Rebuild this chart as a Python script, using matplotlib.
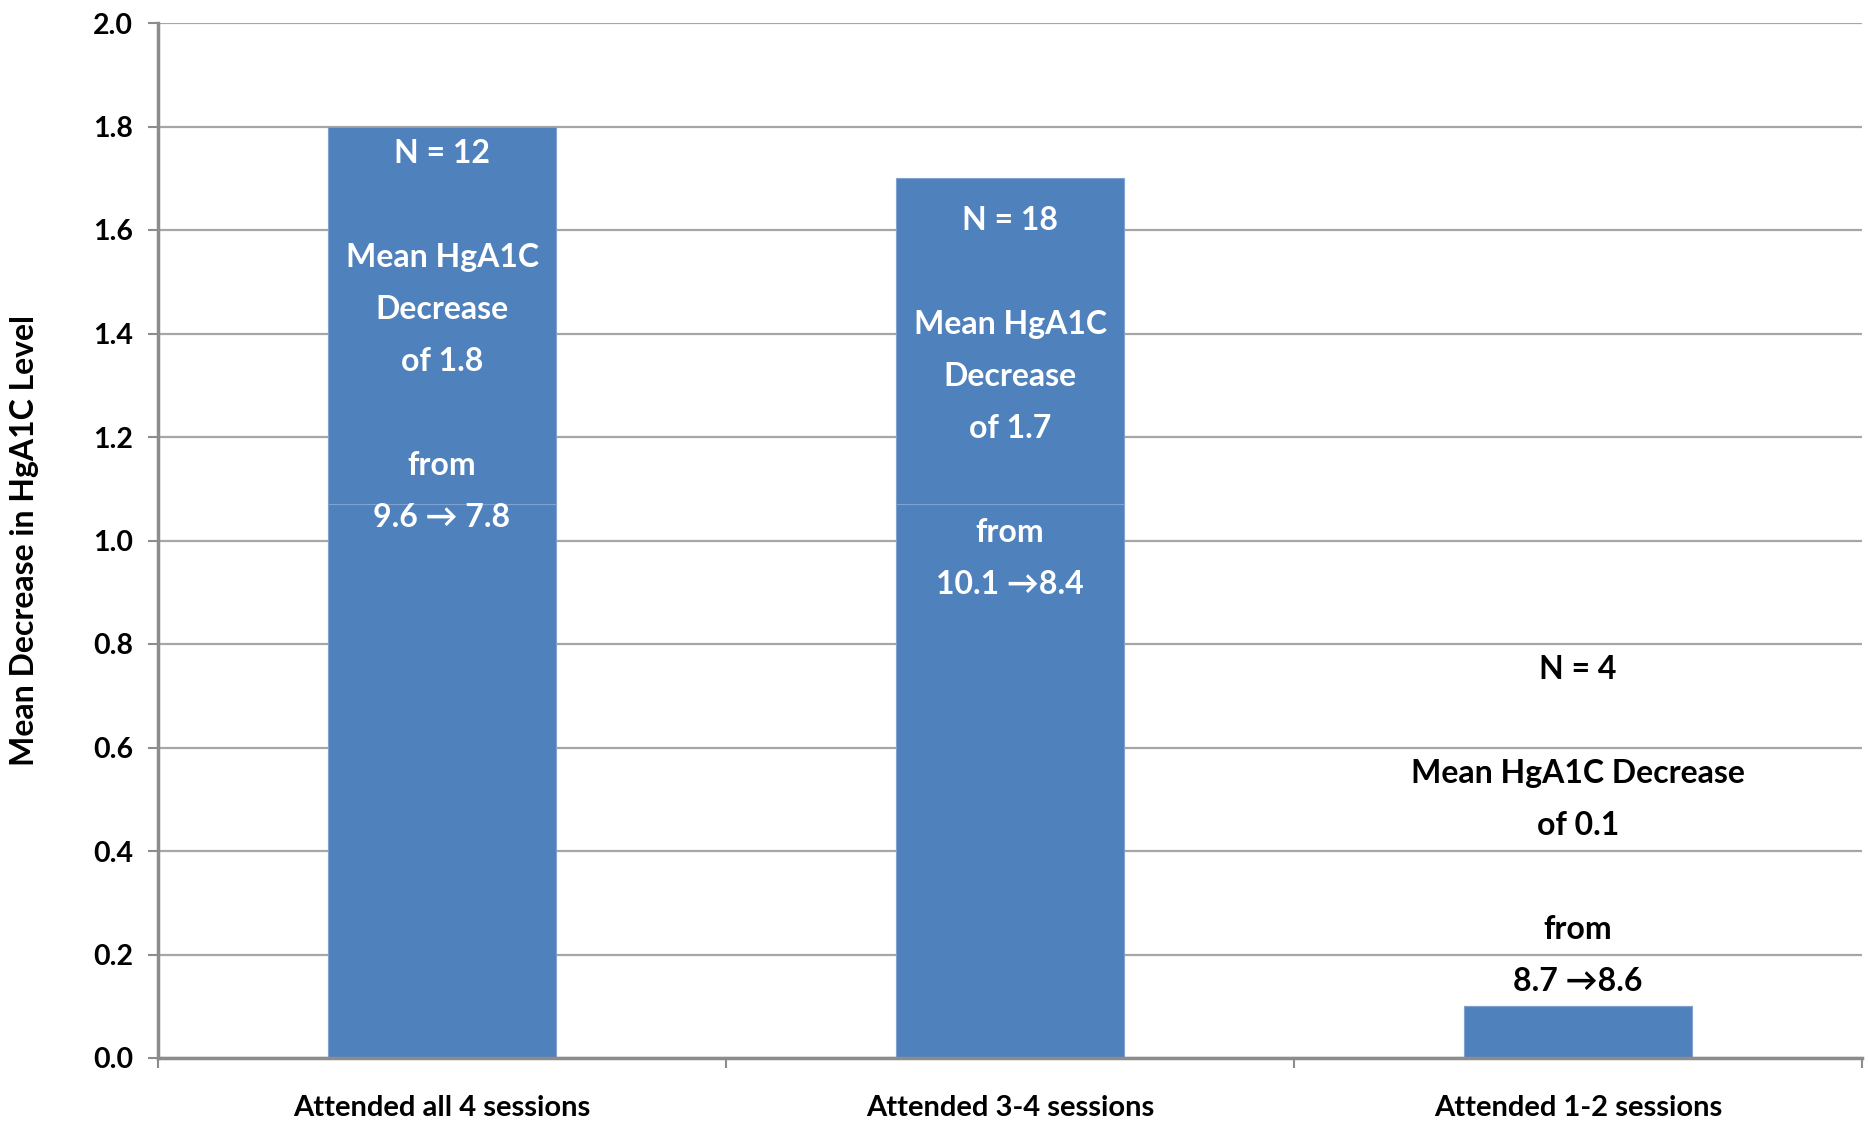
import matplotlib
matplotlib.use("Agg")
import matplotlib.pyplot as plt
from matplotlib.transforms import offset_copy

# ---- data ----
categories = ["Attended all 4 sessions", "Attended 3-4 sessions", "Attended 1-2 sessions"]
mean_decrease = [1.8, 1.7, 0.1]
segment_split = [1.07, 1.07, 0.1]   # visible white divider inside the first two bars
yticks = [0.0, 0.2, 0.4, 0.6, 0.8, 1.0, 1.2, 1.4, 1.6, 1.8, 2.0]
annotations = [
    ["N = 12", "", "Mean HgA1C", "Decrease", "of 1.8", "", "from", "9.6 \u2192 7.8"],
    ["N = 18", "", "Mean HgA1C", "Decrease", "of 1.7", "", "from", "10.1 \u21928.4"],
    ["N = 4", "", "Mean HgA1C Decrease", "of 0.1", "", "from", "8.7 \u21928.6"],
]
annotation_top = [1.747, 1.619, 0.751]   # y (data) of first line centre
annotation_color = ["white", "white", "black"]
ylabel = "Mean Decrease in HgA1C Level"

BAR = "#4F81BD"
GRID = "#A6A6A6"
AX = "#8C8C8C"
FONT = ["Lato", "DejaVu Sans"]

fig = plt.figure(figsize=(18.69, 11.23), dpi=100)
ax = fig.add_axes([158/1869, 1 - 1058/1123, (1862-158)/1869, (1058-23)/1123])

x = list(range(len(categories)))
lower = segment_split
upper = [m - s for m, s in zip(mean_decrease, segment_split)]
ax.bar(x, lower, width=0.4, color=BAR, edgecolor="#7FA2CF", linewidth=0.8, zorder=3)
ax.bar(x, upper, bottom=lower, width=0.4, color=BAR, edgecolor="#7FA2CF", linewidth=0.8, zorder=3)

ax.set_xlim(-0.5, len(categories) - 0.5)
ax.set_ylim(0, 2.0)
ax.set_yticks(yticks)
ax.set_yticklabels([f"{v:.1f}" for v in yticks])
ax.yaxis.grid(True, color=GRID, linewidth=1.6, zorder=0)
ax.set_axisbelow(True)

for s in ["top", "right"]:
    ax.spines[s].set_visible(False)
for s in ["left", "bottom"]:
    ax.spines[s].set_color(AX)
    ax.spines[s].set_linewidth(2.5)
    ax.spines[s].set_zorder(4)

ax.set_xticks(x)
ax.set_xticklabels(categories, fontfamily=FONT, fontweight="bold", fontsize=21)
ax.set_xticks([i - 0.5 for i in range(len(categories) + 1)], minor=True)
ax.tick_params(axis="x", which="major", length=0, pad=27)
ax.tick_params(axis="x", which="minor", length=7, width=1.5, color=AX)
ax.tick_params(axis="y", length=7, width=1.5, color=AX, pad=11)
for lab in ax.get_yticklabels():
    lab.set_fontfamily(FONT)
    lab.set_fontweight("bold")
    lab.set_fontsize(20.5)

ax.set_ylabel(ylabel, fontfamily=FONT, fontweight="bold", fontsize=23)
ax.yaxis.set_label_coords(-0.070, 0.5)

spacing_pt = 52 * 72 / 100
for i, lines in enumerate(annotations):
    for j, line in enumerate(lines):
        if not line:
            continue
        tr = offset_copy(ax.transData, fig=fig, x=0, y=-j * spacing_pt, units="points")
        ax.text(x[i], annotation_top[i], line, transform=tr, ha="center", va="center",
                fontfamily=FONT, fontweight="bold", fontsize=23,
                color=annotation_color[i], zorder=5)

fig.savefig("out.png", dpi=100, facecolor="white")
